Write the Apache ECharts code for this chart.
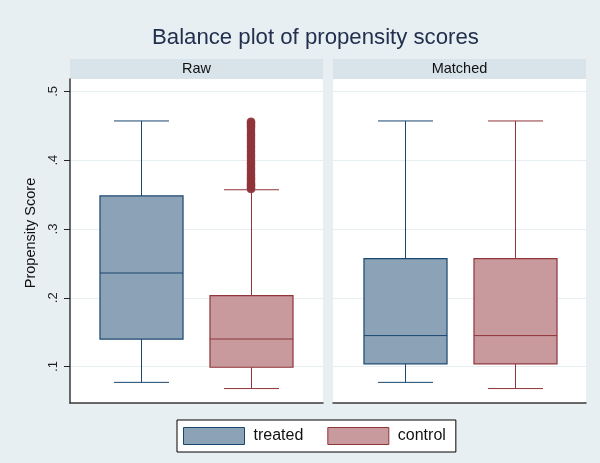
<!DOCTYPE html>
<html>
<head>
<meta charset="utf-8">
<script src="https://cdn.jsdelivr.net/npm/echarts@6/dist/echarts.min.js"></script>
<style>
  html, body { margin: 0; padding: 0; background: #e8eff2; }
  #chart { width: 600px; height: 463px; }
</style>
</head>
<body>
<div id="chart"></div>
<script>
// ---- data ----
const title = 'Balance plot of propensity scores';
const yAxisTitle = 'Propensity Score';
const panels = ['Raw', 'Matched'];
const groups = ['treated', 'control'];
// [lower whisker, Q1, median, Q3, upper whisker]
const rawTreated = [0.077, 0.140, 0.236, 0.348, 0.457];
const rawControl = [0.068, 0.099, 0.140, 0.203, 0.357];
const matchedTreated = [0.077, 0.104, 0.145, 0.257, 0.457];
const matchedControl = [0.068, 0.104, 0.145, 0.257, 0.457];
const rawControlOutliers = [0.358, 0.359, 0.361, 0.363, 0.364, 0.366, 0.368, 0.371, 0.373, 0.375,
  0.378, 0.380, 0.383, 0.386, 0.388, 0.391, 0.394, 0.396, 0.399, 0.402, 0.405, 0.407, 0.410,
  0.413, 0.416, 0.419, 0.421, 0.424, 0.427, 0.430, 0.433, 0.436, 0.438, 0.441, 0.444, 0.447,
  0.449, 0.451, 0.453, 0.455, 0.456];
const yTicks = [0.1, 0.2, 0.3, 0.4, 0.5];
const yMin = 0.047, yMax = 0.518;

// ---- styles ----
const FONT = '"Liberation Sans", Arial, sans-serif';
const colors = {
  treated: { fill: '#8ca3b7', stroke: '#1a476f' },
  control: { fill: '#c89a9d', stroke: '#90353b' }
};
const plotTop = 79, plotBottom = 60;
const visGrids = [{ left: 70, width: 253 }, { left: 333, width: 253 }];
const boxGrids = [{ left: 86, width: 220 }, { left: 350, width: 220 }];

function renderBox(col) {
  return function (params, api) {
    const cat = api.value(0);
    const lo = api.coord([cat, api.value(1)]);
    const q1 = api.coord([cat, api.value(2)]);
    const md = api.coord([cat, api.value(3)]);
    const q3 = api.coord([cat, api.value(4)]);
    const hi = api.coord([cat, api.value(5)]);
    const band = api.size([1, 0])[0];
    const bw = band * 0.755, cw = band * 0.5;
    const x = Math.round(lo[0]) + 0.5;
    const ls = { stroke: col.stroke, lineWidth: 1 };
    return {
      type: 'group',
      children: [
        { type: 'line', shape: { x1: x, y1: hi[1], x2: x, y2: q3[1] }, style: ls },
        { type: 'line', shape: { x1: x, y1: q1[1], x2: x, y2: lo[1] }, style: ls },
        { type: 'line', shape: { x1: x - cw / 2, y1: hi[1], x2: x + cw / 2, y2: hi[1] }, style: ls },
        { type: 'line', shape: { x1: x - cw / 2, y1: lo[1], x2: x + cw / 2, y2: lo[1] }, style: ls },
        { type: 'rect', shape: { x: x - bw / 2, y: q3[1], width: bw, height: q1[1] - q3[1] },
          style: { fill: col.fill, stroke: col.stroke, lineWidth: 1.2 } },
        { type: 'line', shape: { x1: x - bw / 2, y1: md[1], x2: x + bw / 2, y2: md[1] }, style: ls }
      ]
    };
  };
}

function boxSeries(name, stats, catIdx, axisIdx) {
  return {
    type: 'custom', name: name,
    xAxisIndex: axisIdx, yAxisIndex: axisIdx,
    itemStyle: { color: colors[name].fill, borderColor: colors[name].stroke },
    renderItem: renderBox(colors[name]),
    encode: { x: 0, y: [1, 2, 3, 4, 5] },
    data: [[catIdx].concat(stats)],
    z: 3
  };
}

const grids = [];
visGrids.forEach(g => grids.push({ left: g.left, width: g.width, top: plotTop, bottom: plotBottom,
  show: true, backgroundColor: '#ffffff', borderWidth: 0 }));
boxGrids.forEach(g => grids.push({ left: g.left, width: g.width, top: plotTop, bottom: plotBottom }));

const xAxes = [0, 1].map(i => ({
  type: 'category', gridIndex: i, data: groups,
  axisLine: { show: true, lineStyle: { color: '#3a3a3a', width: 1.5 } },
  axisTick: { show: false }, axisLabel: { show: false }, splitLine: { show: false }
})).concat([2, 3].map(i => ({
  type: 'category', gridIndex: i, data: groups, boundaryGap: true, show: false
})));

const yAxes = [0, 1].map(i => ({
  type: 'value', gridIndex: i, min: yMin, max: yMax,
  name: i === 0 ? yAxisTitle : '', nameLocation: 'middle', nameGap: 32, nameRotate: 90,
  nameTextStyle: { fontFamily: FONT, fontSize: 14.5, color: '#111', padding: [0, 0, 0, 16] },
  axisLine: { show: i === 0, lineStyle: { color: '#3a3a3a', width: 1.5 } },
  axisTick: { show: i === 0, length: 6, customValues: yTicks, lineStyle: { color: '#222' } },
  axisLabel: { show: i === 0, customValues: yTicks, rotate: 90, margin: 10,
    fontFamily: FONT, fontSize: 13, color: '#222',
    formatter: v => String(Math.round(v * 10) / 10).replace(/^0/, '') },
  splitLine: { show: true, lineStyle: { color: '#e6eef1', width: 1 } }
})).concat([2, 3].map(i => ({
  type: 'value', gridIndex: i, min: yMin, max: yMax, show: false, splitLine: { show: false }
})));

const series = [
  boxSeries('treated', rawTreated, 0, 2),
  boxSeries('control', rawControl, 1, 2),
  boxSeries('treated', matchedTreated, 0, 3),
  boxSeries('control', matchedControl, 1, 3),
  {
    type: 'scatter', name: 'control', xAxisIndex: 2, yAxisIndex: 2,
    symbol: 'circle', symbolSize: 8,
    itemStyle: { color: colors.control.stroke, borderColor: colors.control.stroke, borderWidth: 0.5 },
    data: rawControlOutliers.map(v => [1, v]), z: 4, silent: true
  }
];

const graphics = [];
panels.forEach((p, i) => {
  graphics.push({ type: 'rect', left: visGrids[i].left, top: 59,
    shape: { width: visGrids[i].width, height: 20 }, style: { fill: '#d8e4ea' }, silent: true });
  graphics.push({ type: 'text', x: visGrids[i].left + visGrids[i].width / 2, y: 69,
    style: { text: p, fontFamily: FONT, fontSize: 14.5, fill: '#111', align: 'center', verticalAlign: 'middle' } });
});

const chart = echarts.init(document.getElementById('chart'), null, { renderer: 'canvas' });
chart.setOption({
  backgroundColor: '#e8eff2',
  animation: false,
  title: {
    text: title, left: 147, top: 22,
    textStyle: { fontFamily: FONT, fontSize: 22.2, fontWeight: 'normal', color: '#22304f' }
  },
  legend: {
    left: 177, top: 420, orient: 'horizontal',
    backgroundColor: '#ffffff', borderColor: '#000', borderWidth: 1,
    padding: [7, 10, 7, 6], itemGap: 24, itemWidth: 61, itemHeight: 17, icon: 'rect',
    selectedMode: false,
    textStyle: { fontFamily: FONT, fontSize: 16, color: '#111', padding: [0, 0, 0, 4] },
    data: groups.map(g => ({ name: g, icon: 'rect',
      itemStyle: { color: colors[g].fill, borderColor: colors[g].stroke, borderWidth: 1 } }))
  },
  grid: grids,
  xAxis: xAxes,
  yAxis: yAxes,
  series: series,
  graphic: graphics
});
</script>
</body>
</html>
